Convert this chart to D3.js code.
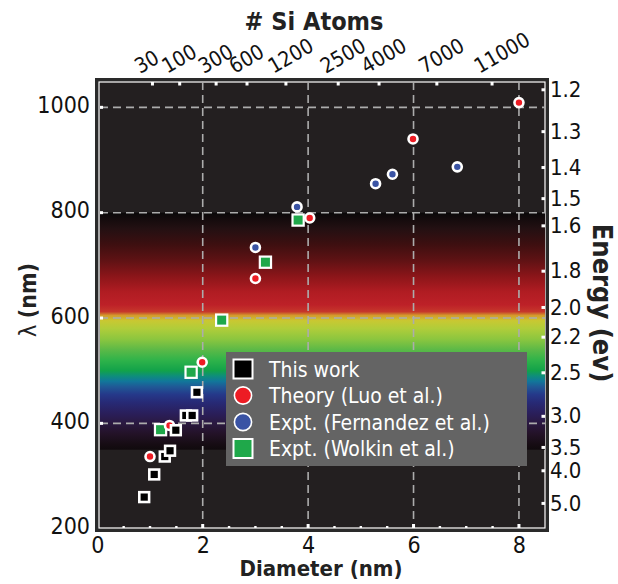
<!DOCTYPE html>
<html>
<head>
<meta charset="utf-8">
<script src="https://cdn.jsdelivr.net/npm/d3@7"></script>
<style>
  html, body { margin: 0; padding: 0; background: #fff; }
  svg { display: block; }
  text { font-family: "DejaVu Sans Condensed", "Liberation Sans", sans-serif; }
</style>
</head>
<body>
<svg id="chart" width="618" height="584"></svg>
<script>
// ---- data ----
const diameterTicks = [0, 2, 4, 6, 8];
const diameterMinorTicks = [0.5, 1, 1.5, 2.5, 3, 3.5, 4.5, 5, 5.5, 6.5, 7, 7.5];
const wavelengthTicks = [200, 400, 600, 800, 1000];
const wavelengthGrid = [400, 600, 800, 1000];
const atomTicks = [30, 100, 300, 600, 1200, 2500, 4000, 7000, 11000];
const energyTicks = [1.2, 1.3, 1.4, 1.5, 1.6, 1.8, 2.0, 2.2, 2.5, 3.0, 3.5, 4.0, 5.0];

// This work
const thisWorkD = [0.89, 1.08, 1.28, 1.38, 1.49, 1.68, 1.80, 1.89];
const thisWorkL = [260, 303, 337, 348, 387, 415, 415, 459];
// Theory (Luo et al.)
const luoD = [1.0, 1.37, 1.99, 3.0, 4.03, 5.99, 8.0];
const luoL = [337, 396, 516, 675, 790, 940, 1009];
// Expt. (Fernandez et al.)
const fernD = [3.0, 3.79, 5.28, 5.60, 6.83];
const fernL = [734, 811, 855, 873, 887];
// Expt. (Wolkin et al.)
const wolkD = [1.20, 1.78, 2.36, 3.19, 3.81];
const wolkL = [388, 497, 596, 706, 786];

// visible band colours by wavelength (nm), long to short
const bandLambda = [800, 770, 740, 710, 680, 650, 625, 612, 605, 595, 580, 560, 540, 520, 500, 490, 480, 470, 455, 440, 420, 400, 380, 360, 350];
const bandColor = ["#0a0809", "#231012", "#3d0f10", "#5e1214", "#8a1519", "#b01c22", "#bd2128", "#c6372b", "#d49a2c", "#c9c832", "#b0cd3a", "#8cc63f", "#5cb947", "#2fb34a", "#12a24a", "#0e8e7a", "#11779a", "#1f5a96", "#25398a", "#272a76", "#2a1f5c", "#2a1840", "#231227", "#160c13", "#100a0d"];

const legendLabels = ["This work", "Theory (Luo et al.)", "Expt. (Fernandez et al.)", "Expt. (Wolkin et al.)"];

// ---- layout ----
const svg = d3.select("#chart");
const inner = { left: 100, right: 545, top: 82, bottom: 528 };

const x = d3.scaleLinear().domain([0, 8.5]).range([97.3, 545.3]);
const y = d3.scaleLinear().domain([200, 1050]).range([528.7, 81]);

// nanocrystal diameter (nm) holding N silicon atoms (50 atoms/nm^3)
const atomsToD = n => Math.cbrt(n / (Math.PI / 6 * 50));

const defs = svg.append("defs");
defs.append("clipPath").attr("id", "clip")
  .append("rect")
  .attr("x", inner.left).attr("y", inner.top)
  .attr("width", inner.right - inner.left).attr("height", inner.bottom - inner.top);

// vertical gradient in user space, from 800 nm down to 350 nm
const bandTop = y(800), bandBot = y(350);
const grad = defs.append("linearGradient").attr("id", "band")
  .attr("gradientUnits", "userSpaceOnUse")
  .attr("x1", 0).attr("x2", 0).attr("y1", bandTop).attr("y2", bandBot);
grad.selectAll("stop").data(bandLambda).join("stop")
  .attr("offset", d => (y(d) - bandTop) / (bandBot - bandTop))
  .attr("stop-color", (d, i) => bandColor[i]);

// frame
svg.append("rect")
  .attr("x", 96.5).attr("y", 79.5).attr("width", 451).attr("height", 451)
  .attr("fill", "#231f20").attr("stroke", "#2a2a2a").attr("stroke-width", 3);
svg.append("rect")
  .attr("x", 99).attr("y", 82).attr("width", 446).attr("height", 446)
  .attr("fill", "#231f20").attr("stroke", "#ffffff").attr("stroke-width", 1.2);

const plot = svg.append("g").attr("clip-path", "url(#clip)");

plot.append("rect")
  .attr("x", inner.left).attr("width", inner.right - inner.left)
  .attr("y", bandTop).attr("height", bandBot - bandTop)
  .attr("fill", "url(#band)");

// dashed grid
plot.selectAll("line.vgrid").data(diameterTicks.filter(d => d > 0)).join("line")
  .attr("x1", d => x(d)).attr("x2", d => x(d))
  .attr("y1", inner.top).attr("y2", inner.bottom)
  .attr("stroke", "#acacac").attr("stroke-width", 1.6).attr("stroke-dasharray", "8,5");
plot.selectAll("line.hgrid").data(wavelengthGrid).join("line")
  .attr("x1", inner.left).attr("x2", inner.right)
  .attr("y1", d => y(d)).attr("y2", d => y(d))
  .attr("stroke", "#acacac").attr("stroke-width", 1.6).attr("stroke-dasharray", "8,5");

// inward white tick marks
const tickG = svg.append("g").attr("fill", "#fff");
tickG.selectAll("rect.bmaj").data(diameterTicks.filter(d => d > 0)).join("rect")
  .attr("x", d => x(d) - 1.5).attr("y", inner.bottom - 4).attr("width", 3).attr("height", 4);
tickG.selectAll("rect.bmin").data(diameterMinorTicks).join("rect")
  .attr("x", d => x(d) - 1.2).attr("y", inner.bottom - 2).attr("width", 2.4).attr("height", 2);
tickG.selectAll("rect.top").data(atomTicks).join("rect")
  .attr("x", d => x(atomsToD(d)) - 1.5).attr("y", inner.top).attr("width", 3).attr("height", 3.5);
tickG.selectAll("rect.right").data(energyTicks).join("rect")
  .attr("x", inner.right - 3.5).attr("y", d => y(1240 / d) - 1.5).attr("width", 3.5).attr("height", 3);
tickG.selectAll("rect.left").data(wavelengthGrid).join("rect")
  .attr("x", inner.left).attr("y", d => y(d) - 1.5).attr("width", 3).attr("height", 3);

// axes (labels only; tick marks drawn above)
const styleAxis = (g, size) => {
  g.select(".domain").remove();
  g.selectAll(".tick line").remove();
  g.selectAll("text").attr("fill", "#111").style("font-size", size + "px")
    .style("font-family", "'DejaVu Sans Condensed', 'Liberation Sans', sans-serif");
};

svg.append("g")
  .attr("transform", `translate(0,${inner.bottom + 2})`)
  .call(d3.axisBottom(x).tickValues(diameterTicks).tickSize(0).tickPadding(7).tickFormat(d3.format("d")))
  .call(g => styleAxis(g, 23));

svg.append("g")
  .attr("transform", `translate(${inner.left - 4},0)`)
  .call(d3.axisLeft(y).tickValues(wavelengthTicks).tickSize(0).tickPadding(6).tickFormat(d3.format("d")))
  .call(g => styleAxis(g, 23))
  .call(g => g.selectAll("text").attr("dy", "0.22em"));

svg.append("g")
  .attr("transform", `translate(${inner.right + 3},0)`)
  .call(d3.axisRight(y).tickValues(energyTicks.map(e => 1240 / e)).tickSize(0).tickPadding(2)
    .tickFormat((d, i) => energyTicks[i].toFixed(1)))
  .call(g => styleAxis(g, 22))
  .call(g => g.selectAll("text").attr("dy", "0.3em"));

svg.append("g")
  .attr("transform", `translate(0,${inner.top - 8})`)
  .call(d3.axisTop(x).tickValues(atomTicks.map(atomsToD)).tickSize(0).tickPadding(0)
    .tickFormat((d, i) => atomTicks[i]))
  .call(g => styleAxis(g, 21))
  .call(g => g.selectAll("text")
    .attr("text-anchor", "start").attr("y", 0).attr("dy", 0)
    .attr("transform", "translate(-13,0) rotate(-30)"));

// axis titles
svg.append("text").attr("x", 314).attr("y", 30).attr("text-anchor", "middle")
  .style("font-size", "25px").style("font-weight", "bold").attr("fill", "#222")
  .text("# Si Atoms");
svg.append("text").attr("x", 321).attr("y", 576).attr("text-anchor", "middle")
  .style("font-size", "22px").style("font-weight", "bold").attr("fill", "#222")
  .text("Diameter (nm)");
const yTitle = svg.append("text").attr("transform", "translate(36,300) rotate(-90)")
  .attr("text-anchor", "middle").style("font-size", "23px").attr("fill", "#222");
yTitle.append("tspan").text("λ ");
yTitle.append("tspan").style("font-weight", "bold").text("(nm)");
svg.append("text").attr("transform", "translate(593,303) rotate(90)")
  .attr("text-anchor", "middle").style("font-size", "27px").style("font-weight", "bold")
  .attr("fill", "#222").text("Energy (ev)");

// ---- markers ----
const pts = (ds, ls) => ds.map((d, i) => ({ d, l: ls[i] }));
const marks = svg.append("g").attr("clip-path", "url(#clip)");

const squares = (data, fill, size, sw) =>
  marks.append("g").selectAll("rect").data(data).join("rect")
    .attr("x", p => x(p.d) - size / 2).attr("y", p => y(p.l) - size / 2)
    .attr("width", size).attr("height", size)
    .attr("fill", fill).attr("stroke", "#fff").attr("stroke-width", sw);
const circles = (data, fill) =>
  marks.append("g").selectAll("circle").data(data).join("circle")
    .attr("cx", p => x(p.d)).attr("cy", p => y(p.l)).attr("r", 4.5)
    .attr("fill", fill).attr("stroke", "#fff").attr("stroke-width", 2.6);

squares(pts(wolkD, wolkL), "#1fa84a", 11.2, 2.2);
circles(pts(fernD, fernL), "#3a53a4");
circles(pts(luoD, luoL), "#ed1c24");
squares(pts(thisWorkD, thisWorkL), "#000", 9.8, 2.6);

// ---- legend ----
const lg = svg.append("g");
lg.append("rect").attr("x", 226).attr("y", 352).attr("width", 301).attr("height", 114)
  .attr("fill", "#646464");
const rowY = i => 369 + i * 26.5;
const legendMarks = [
  g => g.append("rect").attr("x", -9.5).attr("y", -9.5).attr("width", 19).attr("height", 19)
        .attr("fill", "#000").attr("stroke", "#fff").attr("stroke-width", 2),
  g => g.append("circle").attr("r", 8.6).attr("fill", "#ed1c24").attr("stroke", "#fff").attr("stroke-width", 1.6),
  g => g.append("circle").attr("r", 8.6).attr("fill", "#3a53a4").attr("stroke", "#fff").attr("stroke-width", 1.6),
  g => g.append("rect").attr("x", -9.5).attr("y", -9.5).attr("width", 19).attr("height", 19)
        .attr("fill", "#1fa84a").attr("stroke", "#fff").attr("stroke-width", 2)
];
legendLabels.forEach((label, i) => {
  const row = lg.append("g").attr("transform", `translate(243,${rowY(i)})`);
  legendMarks[i](row);
  row.append("text").attr("x", 26).attr("y", 0).attr("dy", "0.36em")
    .style("font-size", "21px").attr("fill", "#fff").text(label);
});
</script>
</body>
</html>
